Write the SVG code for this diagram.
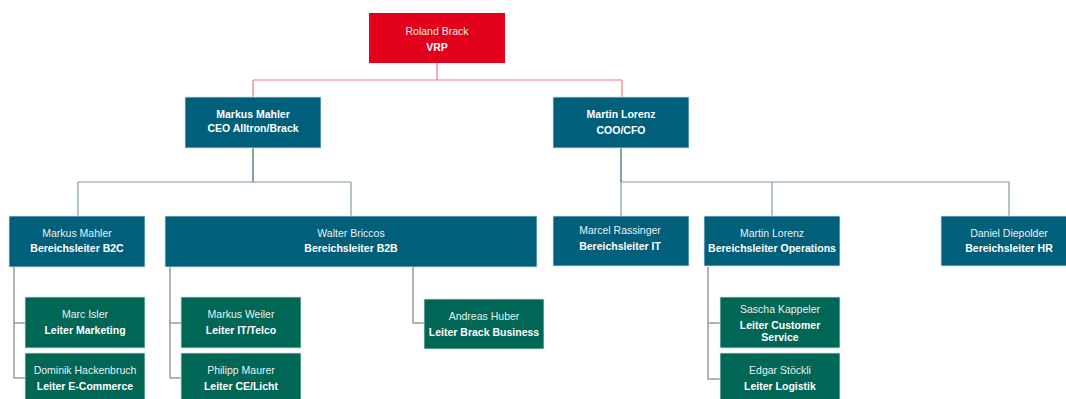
<svg xmlns="http://www.w3.org/2000/svg" width="1066" height="399" viewBox="0 0 1066 399">
<style>
.red{fill:#e2001a;}
.blue{fill:#005f7a;stroke:#d8e4e8;stroke-width:0.8;}
.green{fill:#006655;stroke:#d8e8e4;stroke-width:0.8;}
text{font-family:"Liberation Sans",Arial,sans-serif;font-size:10.5px;fill:#fff;text-anchor:middle;}
.b{font-weight:bold;}
.n{fill:#e8f0f2;}
.cr{fill:none;stroke:#f07a84;stroke-width:1.2;}
.cb{fill:none;stroke:#7a9ea8;stroke-width:1.2;}
.cd{fill:none;stroke:#2f5f6e;stroke-width:1.2;}
.cg{fill:none;stroke:#9a9a9a;stroke-width:1.5;}
</style>
<rect width="1066" height="399" fill="#fff"/>
<g id="connectors">
<path class="cr" d="M437 63V80M253 80H622M253 80V97M622 80V97"/>
<path class="cd" d="M253 148V182"/>
<path class="cb" d="M78 182H351M78 182V216M351 182V216"/>
<path class="cd" d="M621 148V182"/>
<path class="cb" d="M621 182H1009M621 182V216M772 182V216M1009 182V216"/>
<path class="cg" d="M14 267V378H25M14 323H25"/>
<path class="cg" d="M170 267V378H181M170 323H181"/>
<path class="cg" d="M413 267V323H424"/>
<path class="cg" d="M708 267V379H720M708 323H720"/>
</g>
<g id="roland-brack">
<rect class="red" x="369" y="13" width="136" height="50"/>
<text class="n" x="437" y="35">Roland Brack</text>
<text class="b" x="437" y="51">VRP</text>
</g>
<g id="markus-mahler-ceo">
<rect class="blue" x="185" y="97" width="136" height="51"/>
<text class="b" x="253" y="118">Markus Mahler</text>
<text class="b" x="253" y="132">CEO Alltron/Brack</text>
</g>
<g id="martin-lorenz-coo">
<rect class="blue" x="553" y="97" width="136" height="51"/>
<text class="b" x="621" y="118">Martin Lorenz</text>
<text class="b" x="621" y="134">COO/CFO</text>
</g>
<g id="markus-mahler-b2c">
<rect class="blue" x="9" y="216" width="136" height="51"/>
<text class="n" x="77" y="237">Markus Mahler</text>
<text class="b" x="77" y="252">Bereichsleiter B2C</text>
</g>
<g id="walter-briccos">
<rect class="blue" x="165" y="216" width="372" height="51"/>
<text class="n" x="351" y="237">Walter Briccos</text>
<text class="b" x="351" y="252">Bereichsleiter B2B</text>
</g>
<g id="marcel-rassinger">
<rect class="blue" x="553" y="216" width="136" height="50"/>
<text class="n" x="620" y="234">Marcel Rassinger</text>
<text class="b" x="620" y="250">Bereichsleiter IT</text>
</g>
<g id="martin-lorenz-ops">
<rect class="blue" x="704" y="216" width="136" height="50"/>
<text class="n" x="772" y="237">Martin Lorenz</text>
<text class="b" x="772" y="252">Bereichsleiter Operations</text>
</g>
<g id="daniel-diepolder">
<rect class="blue" x="941" y="216" width="136" height="50"/>
<text class="n" x="1009" y="237">Daniel Diepolder</text>
<text class="b" x="1009" y="252">Bereichsleiter HR</text>
</g>
<g id="marc-isler">
<rect class="green" x="25" y="297" width="120" height="51"/>
<text class="n" x="85" y="318">Marc Isler</text>
<text class="b" x="85" y="334">Leiter Marketing</text>
</g>
<g id="dominik-hackenbruch">
<rect class="green" x="25" y="353" width="120" height="51"/>
<text class="n" x="85" y="374">Dominik Hackenbruch</text>
<text class="b" x="85" y="390">Leiter E-Commerce</text>
</g>
<g id="markus-weiler">
<rect class="green" x="181" y="297" width="120" height="51"/>
<text class="n" x="241" y="318">Markus Weiler</text>
<text class="b" x="241" y="334">Leiter IT/Telco</text>
</g>
<g id="philipp-maurer">
<rect class="green" x="181" y="353" width="120" height="51"/>
<text class="n" x="241" y="374">Philipp Maurer</text>
<text class="b" x="241" y="390">Leiter CE/Licht</text>
</g>
<g id="andreas-huber">
<rect class="green" x="424" y="299" width="120" height="50"/>
<text class="n" x="484" y="320">Andreas Huber</text>
<text class="b" x="484" y="336">Leiter Brack Business</text>
</g>
<g id="sascha-kappeler">
<rect class="green" x="720" y="297" width="120" height="51"/>
<text class="n" x="780" y="313">Sascha Kappeler</text>
<text class="b" x="780" y="329">Leiter Customer</text>
<text class="b" x="780" y="341">Service</text>
</g>
<g id="edgar-stoeckli">
<rect class="green" x="720" y="353" width="120" height="51"/>
<text class="n" x="780" y="374">Edgar Stöckli</text>
<text class="b" x="780" y="390">Leiter Logistik</text>
</g>
</svg>
